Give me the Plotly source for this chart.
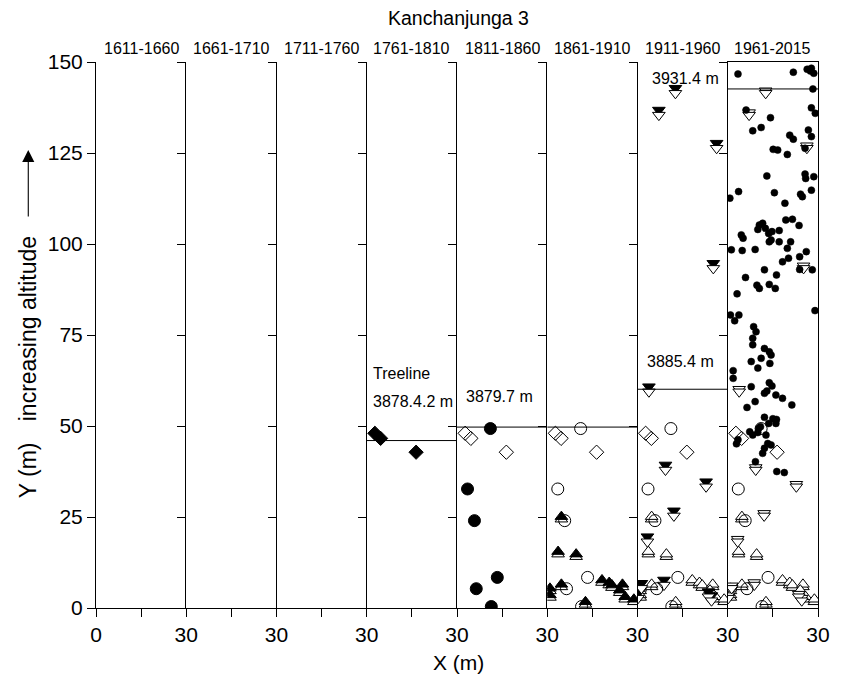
import plotly.graph_objects as go
from plotly.subplots import make_subplots

FONT = "Liberation Sans, Arial, sans-serif"

periods = ["1611-1660", "1661-1710", "1711-1760", "1761-1810",
           "1811-1860", "1861-1910", "1911-1960", "1961-2015"]
y_ticks = [0, 25, 50, 75, 100, 125, 150]

# Tree positions inside the 30 m wide plot (x) and along the slope (y), by cohort
c1761_x = [2.7, 4.6, 16.4]
c1761_y = [48.0, 46.6, 42.8]

c1811_x = [11.1, 3.5, 5.8, 13.4, 6.4, 11.4]
c1811_y = [49.3, 32.7, 24.0, 8.4, 5.3, 0.4]

c1861_x = [4.7, 3.6, 9.6, 0.9, 4.7, 12.7, 18.2, 20.6, 21.5, 25.0, 24.1, 25.9, 28.8, 0.9]
c1861_y = [25.1, 15.5, 14.8, 5.4, 6.5, 1.7, 7.7, 7.0, 6.3, 6.5, 4.9, 3.1, 2.4, 3.6]

c1911_x = [12.6, 7.1, 26.3, 25.2, 3.8, 9.3, 22.8, 12.1, 3.3, 8.8, 1.3, 23.6, 24.6, 0.2]
c1911_y = [141.4, 135.4, 126.3, 93.3, 59.4, 37.9, 33.3, 25.3, 18.2, 6.3, 5.4, 3.1, 2.0, 2.7]

c1961_x = [3.4, 21.8, 26.4, 27.8, 28.6, 27.5, 28.3,
           6.1, 14.2, 27.8, 29.1, 8.3, 11.1, 26.8, 20.6, 21.8, 27.8,
           15.1, 16.6, 19.8, 25.7,
           13.0, 25.7, 25.9, 28.6,
           3.6, 15.5, 24.2, 24.8, 27.8, 0.7, 19.0,
           19.3, 21.5, 23.7, 10.5, 11.6, 12.5, 13.6, 14.7, 14.4, 10.0, 17.1, 13.8,
           4.5, 5.1, 1.2, 4.8, 9.1, 17.1, 19.8, 20.9,
           18.2, 20.2, 23.9, 26.1, 28.1, 23.9, 12.2, 16.2, 5.9,
           9.7, 10.5, 13.8, 15.8, 3.1, 29.0, 0.9, 3.7, 2.3, 8.6,
           9.4, 8.3, 8.3, 12.2, 13.8, 14.4, 11.1, 7.8, 14.0, 10.0, 1.8, 1.8,
           7.8, 13.8, 14.7, 12.2, 13.0, 16.0, 18.2, 9.1, 6.4, 21.3,
           12.2, 15.0, 16.2, 13.6, 16.0, 10.3, 10.9, 7.3, 8.3, 10.0, 12.7,
           3.4, 2.9, 13.3, 14.4, 12.2, 11.6, 9.2, 16.3, 18.8]
c1961_y = [146.7, 147.2, 148.0, 148.3, 146.9, 147.5, 142.6,
           136.8, 134.7, 137.4, 135.9, 131.1, 132.0, 131.3, 129.9, 128.8, 129.5,
           126.0, 125.8, 124.6, 126.3,
           118.7, 119.2, 118.0, 118.5,
           114.4, 114.1, 113.7, 113.0, 114.8, 112.6, 111.2,
           106.6, 106.8, 105.1, 105.2, 105.7, 104.3, 102.9, 103.4, 101.1, 104.0, 103.7, 100.6,
           102.5, 101.6, 98.4, 98.2, 98.5, 100.6, 98.8, 100.6,
           95.1, 96.1, 96.5, 97.9, 92.9, 93.0, 92.9, 91.5, 90.8,
           88.7, 87.8, 88.9, 87.8, 86.3, 81.7, 80.5, 80.5, 78.9, 77.3,
           75.9, 74.1, 72.3, 71.3, 70.4, 69.5, 68.6, 67.7, 67.2, 65.9, 65.2, 63.1,
           60.8, 61.9, 61.0, 59.0, 59.6, 58.5, 57.6, 56.7, 55.1, 55.8,
           52.4, 52.0, 51.8, 50.7, 50.7, 49.4, 49.8, 48.4, 47.5, 48.2, 47.5,
           46.2, 45.1, 45.2, 44.8, 43.9, 42.5, 40.2, 37.5, 37.2]

# Treeline altitude drawn in each period (relative metres), and its label
treeline_y = [None, None, None, 46.0, 49.7, 49.7, 60.1, 142.6]
treeline_labels = [
    # (panel index, x, y, text)
    (3, 1.5, 64.3, "Treeline"),
    (3, 1.5, 56.6, "3878.4.2 m"),
    (4, 2.2, 58.0, "3879.7 m"),
    (6, 2.6, 67.6, "3885.4 m"),
    (6, 4.0, 145.6, "3931.4 m"),
]

DOUBLE = 0.7  # vertical offset of the doubled outline symbols


def marker(symbol, size, fill, lw=1.0):
    return dict(symbol=symbol, size=size, color=fill,
                line=dict(color="black", width=lw))


fig = make_subplots(rows=1, cols=8, horizontal_spacing=0)


def add(col, xs, ys, m, dy=0.0):
    fig.add_trace(go.Scatter(x=xs, y=[v + dy for v in ys], mode="markers",
                             marker=m, showlegend=False, hoverinfo="skip"),
                  row=1, col=col)


# periods without any tree still need their (empty) plot frame
for col in (1, 2, 3):
    fig.add_trace(go.Scatter(x=[None], y=[None], mode="markers",
                             showlegend=False, hoverinfo="skip"),
                  row=1, col=col)

OPEN_TRI_UP = marker("triangle-up", 11, "white")
OPEN_TRI_DN = marker("triangle-down", 11, "white")
OPEN_CIRC = marker("circle-open", 12, "black")
OPEN_DIAM = marker("diamond-open", 11, "black")

# 1761-1810
add(4, c1761_x, c1761_y, marker("diamond", 11, "black"))

# 1811-1860
add(5, c1761_x, c1761_y, OPEN_DIAM)
add(5, c1811_x, c1811_y, marker("circle", 12, "black"))

# 1861-1910
add(6, c1861_x, c1861_y, OPEN_TRI_UP, -DOUBLE)
add(6, c1861_x, c1861_y, marker("triangle-up", 11, "black"))
add(6, c1811_x, c1811_y, OPEN_CIRC)
add(6, c1761_x, c1761_y, OPEN_DIAM)

# 1911-1960
add(7, c1861_x, c1861_y, OPEN_TRI_UP, -DOUBLE)
add(7, c1861_x, c1861_y, OPEN_TRI_UP)
add(7, c1911_x, c1911_y, marker("triangle-down", 11, "black"), 2 * DOUBLE)
add(7, c1911_x, c1911_y, OPEN_TRI_DN)
add(7, c1811_x, c1811_y, OPEN_CIRC)
add(7, c1761_x, c1761_y, OPEN_DIAM)

# 1961-2015
add(8, c1861_x, c1861_y, OPEN_TRI_UP, -DOUBLE)
add(8, c1861_x, c1861_y, OPEN_TRI_UP)
add(8, c1911_x, c1911_y, OPEN_TRI_DN, DOUBLE)
add(8, c1911_x, c1911_y, OPEN_TRI_DN)
add(8, c1811_x, c1811_y, OPEN_CIRC)
add(8, c1761_x, c1761_y, OPEN_DIAM)
add(8, c1961_x, c1961_y, marker("circle", 7, "black", 0.5))

tickfont = dict(family=FONT, size=21, color="black")
for i in range(8):
    n = "" if i == 0 else str(i + 1)
    if i == 0:
        tv, tt = [0, 15, 30], ["0", "", "30"]
    else:
        tv, tt = [15, 30], ["", "30"]
    fig.update_layout({
        f"xaxis{n}": dict(range=[0, 30], showgrid=False, zeroline=False,
                          showline=True, linecolor="black", linewidth=1,
                          mirror=(i == 7),
                          ticks="outside", ticklen=8, tickcolor="black",
                          tickvals=tv, ticktext=tt, tickfont=tickfont),
        f"yaxis{n}": dict(range=[0, 150], showgrid=False, zeroline=False,
                          showline=True, linecolor="black", linewidth=1,
                          mirror=(i == 7),
                          ticks="outside", ticklen=8, tickcolor="black",
                          tickvals=y_ticks, showticklabels=(i == 0),
                          tickfont=tickfont),
    })
    # period header
    fig.add_annotation(text=periods[i], xref=f"x{n} domain", yref="paper",
                       x=0.5, y=1.0256, showarrow=False, yanchor="middle",
                       font=dict(family=FONT, size=16, color="black"))
    # treeline
    if treeline_y[i] is not None:
        fig.add_shape(type="line", xref=f"x{n}", yref=f"y{n}",
                      x0=0, x1=30, y0=treeline_y[i], y1=treeline_y[i],
                      line=dict(color="black", width=1))

for p, x, y, t in treeline_labels:
    n = "" if p == 0 else str(p + 1)
    fig.add_annotation(text=t, xref=f"x{n}", yref=f"y{n}", x=x, y=y,
                       xanchor="left", yanchor="middle", showarrow=False,
                       font=dict(family=FONT, size=16, color="black"))

# figure title and axis titles
fig.add_annotation(text="Kanchanjunga 3", xref="paper", yref="paper",
                   x=0.5017, y=1.0806, showarrow=False, yanchor="middle",
                   font=dict(family=FONT, size=19.5, color="black"))
fig.add_annotation(text="X (m)", xref="paper", yref="paper",
                   x=0.5017, y=-0.1007, showarrow=False, yanchor="middle",
                   font=dict(family=FONT, size=21, color="black"))
fig.add_annotation(text="Y (m)", xref="paper", yref="paper",
                   x=-0.0938, y=0.2527, showarrow=False, textangle=-90,
                   xanchor="center", yanchor="middle",
                   font=dict(family=FONT, size=23, color="black"))
fig.add_annotation(text="increasing altitude", xref="paper", yref="paper",
                   x=-0.0938, y=0.511, showarrow=False, textangle=-90,
                   xanchor="center", yanchor="middle",
                   font=dict(family=FONT, size=23, color="black"))
# arrow pointing up the slope
fig.add_annotation(text="", xref="paper", yref="paper",
                   x=-0.0938, y=0.8388, ax=0, ay=68, showarrow=True,
                   arrowhead=2, arrowsize=2.2, arrowwidth=1.1, arrowcolor="black")

fig.update_layout(
    width=842, height=683,
    margin=dict(l=95.5, r=16, t=62, b=75),
    plot_bgcolor="white", paper_bgcolor="white",
    font=dict(family=FONT, color="black"),
)

fig.write_html("out.html")
